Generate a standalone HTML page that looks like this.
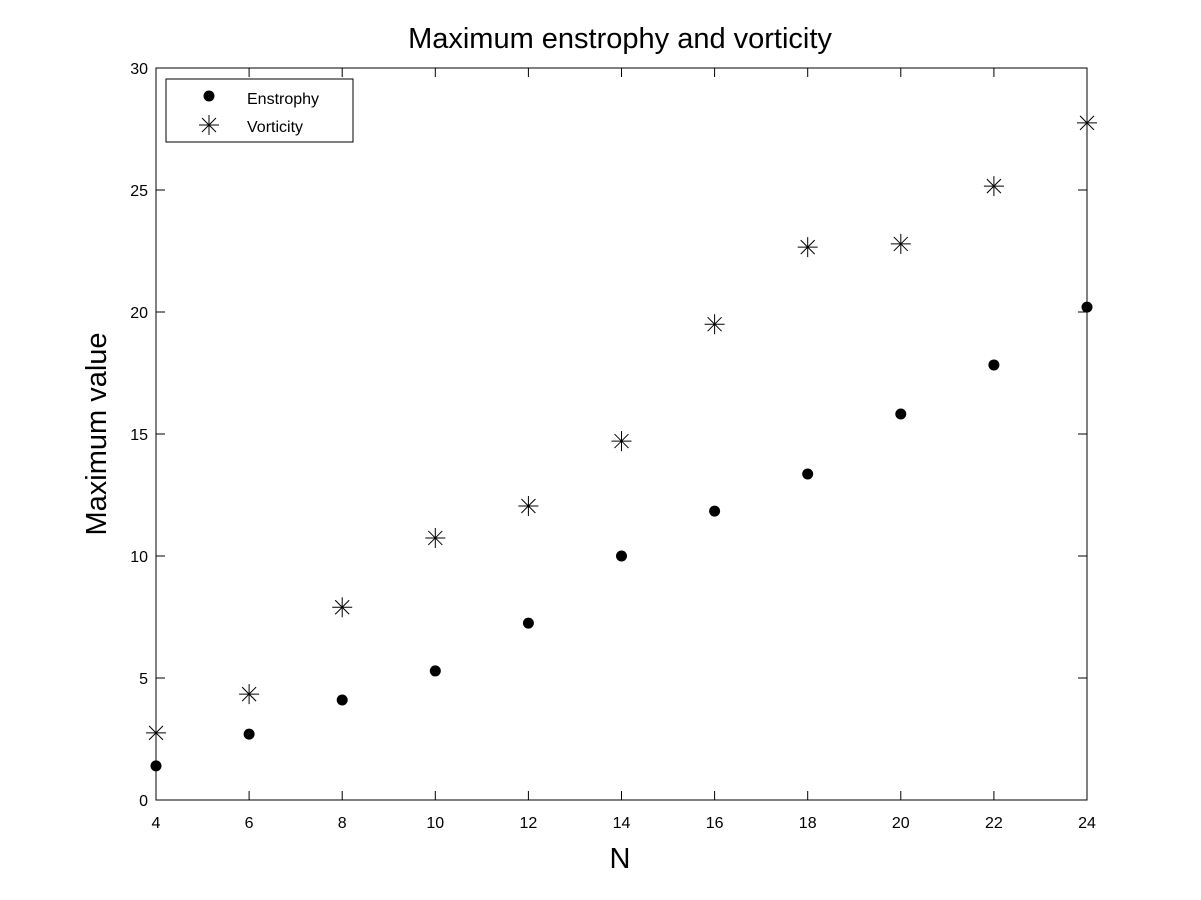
<!DOCTYPE html>
<html><head><meta charset="utf-8"><style>
body{margin:0;background:#fff;}
svg{display:block;font-family:"Liberation Sans",sans-serif;}
</style></head><body>
<svg id="chart" width="1201" height="900">
<rect width="1201" height="900" fill="#fff"/>
</svg>
<script>
const xTicks=[4,6,8,10,12,14,16,18,20,22,24];
const yTicks=[0,5,10,15,20,25,30];
const nValues=[4,6,8,10,12,14,16,18,20,22,24];
const enstrophy=[1.4,2.7,4.1,5.29,7.25,10.0,11.84,13.36,15.82,17.83,20.2];
const vorticity=[2.75,4.34,7.9,10.74,12.05,14.71,19.5,22.66,22.79,25.16,27.75];
const X0=156,X1=1087,Y0=800,Y1=68;
const sx=v=>X0+(v-4)/(24-4)*(X1-X0);
const sy=v=>Y0-(v-0)/(30-0)*(Y0-Y1);
const svg=document.getElementById('chart');
const NS='http://www.w3.org/2000/svg';
function mk(tag,attrs,parent){const e=document.createElementNS(NS,tag);for(const k in attrs)e.setAttribute(k,attrs[k]);(parent||svg).appendChild(e);return e;}
let e;
e=mk('rect',{x:X0,y:Y1,width:X1-X0,height:Y0-Y1,fill:'none',stroke:'#000','stroke-width':1});


xTicks.forEach(t=>{const x=sx(t);
 mk('line',{x1:x,x2:x,y1:Y0,y2:Y0-9,stroke:'#000'});
 mk('line',{x1:x,x2:x,y1:Y1,y2:Y1+9,stroke:'#000'});
 e=mk('text',{x:x,y:Y0+28,'text-anchor':'middle','font-size':16});e.textContent=t;
 
 
});
yTicks.forEach(t=>{const y=sy(t);
 mk('line',{x1:X0,x2:X0+9,y1:y,y2:y,stroke:'#000'});
 mk('line',{x1:X1,x2:X1-9,y1:y,y2:y,stroke:'#000'});
 e=mk('text',{x:X0-8,y:y+6,'text-anchor':'end','font-size':16});e.textContent=t;
 
 
});
e=mk('text',{x:620,y:48,'text-anchor':'middle','font-size':29});e.textContent='Maximum enstrophy and vorticity';


e=mk('text',{x:620,y:868,'text-anchor':'middle','font-size':29});e.textContent='N';


e=mk('text',{x:0,y:0,'text-anchor':'middle','font-size':29,transform:'translate(106,434) rotate(-90)'});e.textContent='Maximum value';


function star(x,y,g){const r=10,d=7;
 mk('line',{x1:x-r,x2:x+r,y1:y,y2:y,stroke:'#000'},g);
 mk('line',{x1:x,x2:x,y1:y-r,y2:y+r,stroke:'#000'},g);
 mk('line',{x1:x-d,x2:x+d,y1:y-d,y2:y+d,stroke:'#000'},g);
 mk('line',{x1:x-d,x2:x+d,y1:y+d,y2:y-d,stroke:'#000'},g);}
nValues.forEach((n,i)=>{
 e=mk('circle',{cx:sx(n),cy:sy(enstrophy[i]),r:5.5,fill:'#000'});
 
 
 const g=mk('g',{});
 
 
 star(sx(n),sy(vorticity[i]),g);
});
const lg=mk('g',{});


mk('rect',{x:166,y:79,width:187,height:63,fill:'#fff',stroke:'#000'},lg);
mk('circle',{cx:209,cy:96,r:5.5,fill:'#000'},lg);
e=mk('text',{x:247,y:104,'font-size':16},lg);e.textContent='Enstrophy';


star(209,125,lg);
e=mk('text',{x:247,y:132,'font-size':16},lg);e.textContent='Vorticity';


</script>
</body></html>
